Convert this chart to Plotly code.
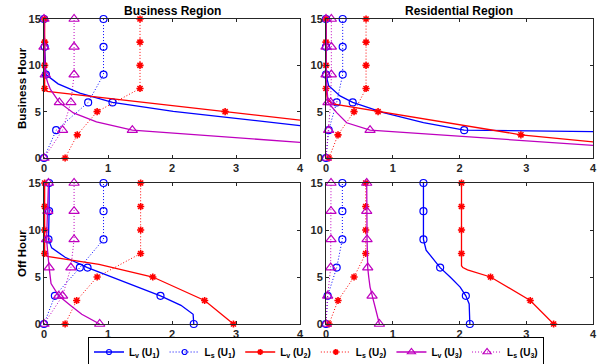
import plotly.graph_objects as go

# ---------------- data ----------------
Y_U13 = [0, 3, 6, 9, 12, 15]            # y positions of U1 / U3 samples
Y_U2 = [0, 2.5, 5, 7.5, 10, 12.5, 15]   # y positions of U2 samples

# Business Region, Business Hour
BB_LV1_X = [7.5, 4.65, 1.07, 0.03, 0.01, 0.0]
BB_LV1_CX = [7.5, 4.65, 4.0, 2.02, 1.07, 0.56, 0.22, 0.03, 0.01, 0.0]
BB_LV1_CY = [0, 3, 3.49, 5.04, 6, 7.0, 8.0, 9, 12, 15]
BB_LS1_X = [0.0, 0.19, 0.69, 0.93, 0.93, 0.93]
BB_LV2_X = [9.2, 6.0, 2.83, 0.01, 0.01, 0.01, 0.01]
BB_LV2_CX = [9.2, 6.0, 2.83, 0.05, 0.01, 0.01, 0.01, 0.01]
BB_LV2_CY = [0, 2.5, 5, 7.2, 7.5, 10, 12.5, 15]
BB_LS2_X = [0.33, 0.52, 0.83, 1.5, 1.5, 1.5, 1.5]
BB_LV3_X = [7.4, 1.38, 0.24, 0.02, 0.0, 0.0]
BB_LV3_CX = [7.4, 1.38, 0.82, 0.46, 0.24, 0.10, 0.06, 0.02, 0.0, 0.0]
BB_LV3_CY = [0, 3, 3.9, 4.86, 6, 7.4, 8.1, 9, 12, 15]
BB_LS3_X = [0.0, 0.29, 0.42, 0.47, 0.47, 0.47]

# Residential Region, Business Hour
RB_LV1_X = [40.0, 2.07, 0.40, 0.0, 0.0, 0.0]
RB_LV1_CX = [40.0, 2.07, 1.46, 0.86, 0.40, 0.21, 0.04, 0.0, 0.0, 0.0]
RB_LV1_CY = [0, 3, 3.82, 4.9, 6, 6.7, 7.8, 9, 12, 15]
RB_LS1_X = [0.0, 0.04, 0.16, 0.25, 0.25, 0.25]
RB_LV2_X = [6.9, 2.92, 0.78, 0.0, 0.0, 0.0, 0.0]
RB_LV2_CX = [6.9, 4.0, 2.92, 0.78, 0.10, 0.02, 0.0, 0.0, 0.0, 0.0]
RB_LV2_CY = [0, 1.73, 2.5, 5, 5.85, 6.3, 7.5, 10, 12.5, 15]
RB_LS2_X = [0.045, 0.18, 0.42, 0.6, 0.6, 0.6, 0.6]
RB_LV3_X = [6.8, 0.66, 0.03, 0.0, 0.0, 0.0]
RB_LV3_CX = [6.8, 4.0, 0.66, 0.31, 0.16, 0.03, 0.0, 0.0, 0.0]
RB_LV3_CY = [0, 1.37, 3, 3.8, 4.9, 6, 9, 12, 15]
RB_LS3_X = [0.0, 0.04, 0.07, 0.08, 0.08, 0.08]

# Business Region, Off Hour
BO_LV1_X = [2.34, 1.82, 0.68, 0.07, 0.08, 0.08]
BO_LV1_CX = [2.34, 2.33, 2.14, 1.82, 0.68, 0.33, 0.12, 0.07, 0.08, 0.08]
BO_LV1_CY = [0, 1.03, 1.99, 3, 6, 7.1, 8.1, 9, 12, 15]
BO_LS1_X = [0.0, 0.17, 0.56, 0.93, 0.93, 0.93]
BO_LV2_X = [2.96, 2.51, 1.70, 0.01, 0.01, 0.01, 0.01]
BO_LV2_CX = [2.96, 2.51, 1.70, 0.86, 0.05, 0.01, 0.01, 0.01, 0.01]
BO_LV2_CY = [0, 2.5, 5, 6.35, 7.2, 7.5, 10, 12.5, 15]
BO_LS2_X = [0.33, 0.51, 0.83, 1.51, 1.51, 1.51, 1.51]
BO_LV3_X = [0.87, 0.23, 0.08, 0.04, 0.06, 0.07]
BO_LV3_CX = [0.87, 0.59, 0.41, 0.23, 0.11, 0.08, 0.04, 0.06, 0.07]
BO_LV3_CY = [0, 1.03, 2.0, 3, 4.3, 6, 9, 12, 15]
BO_LS3_X = [0.0, 0.29, 0.42, 0.47, 0.47, 0.47]

# Residential Region, Off Hour
RO_LV1_X = [2.155, 2.095, 1.71, 1.46, 1.46, 1.46]
RO_LV1_CX = [2.155, 2.145, 2.095, 2.01, 1.86, 1.71, 1.5, 1.46, 1.46, 1.46]
RO_LV1_CY = [0, 2.14, 3, 3.93, 5, 6, 7.86, 9, 12, 15]
RO_LS1_X = [0.0, 0.025, 0.16, 0.245, 0.245, 0.245]
RO_LV2_X = [3.41, 3.06, 2.465, 2.03, 2.03, 2.03, 2.03]
RO_LV2_CX = [3.41, 3.06, 2.465, 2.12, 2.05, 2.03, 2.03, 2.03, 2.03, 2.03]
RO_LV2_CY = [0, 2.5, 5, 5.75, 6.0, 6.2, 7.5, 10, 12.5, 15]
RO_LS2_X = [0.045, 0.18, 0.42, 0.595, 0.595, 0.595, 0.595]
RO_LV3_X = [0.8, 0.69, 0.625, 0.615, 0.61, 0.61]
RO_LV3_CX = [0.8, 0.69, 0.66, 0.64, 0.625, 0.615, 0.61, 0.61]
RO_LV3_CY = [0, 3, 3.93, 5, 6, 9, 12, 15]
RO_LS3_X = [0.0, 0.025, 0.07, 0.075, 0.075, 0.075]

X_TICKS = [0, 1, 2, 3, 4]
Y_TICKS = [0, 5, 10, 15]
COL_TITLES = ["Business Region", "Residential Region"]
ROW_TITLES = ["Business Hour", "Off Hour"]
LEGEND_NAMES = ["L<sub>v</sub> (U<sub>1</sub>)", "L<sub>s</sub> (U<sub>1</sub>)",
                "L<sub>v</sub> (U<sub>2</sub>)", "L<sub>s</sub> (U<sub>2</sub>)",
                "L<sub>v</sub> (U<sub>3</sub>)", "L<sub>s</sub> (U<sub>3</sub>)"]

# ---------------- styling ----------------
BLUE = "#0000FF"
RED = "#FF0000"
MAG = "#BF00BF"
AX = "#262626"
FONT = "Liberation Sans"
DOT = "1px,2px"

STYLES = [
    dict(color=BLUE, dash="solid", symbol="circle-open", size=7, lsize=5),
    dict(color=BLUE, dash=DOT, symbol="circle-open", size=7, lsize=5),
    dict(color=RED, dash="solid", symbol="asterisk-open", size=6, lsize=5),
    dict(color=RED, dash=DOT, symbol="asterisk-open", size=6, lsize=5),
    dict(color=MAG, dash="solid", symbol="triangle-up-open", size=9, lsize=7),
    dict(color=MAG, dash=DOT, symbol="triangle-up-open", size=9, lsize=7),
]

fig = go.Figure()


def line_w(st):
    return 1.3 if st["dash"] == "solid" else 1.0


def marker_w(st):
    return 1.6 if st["symbol"].startswith("asterisk") else 1.2


def add_series(xa, ya, st, mx, my, cx=None, cy=None):
    lx = cx if cx is not None else mx
    lyy = cy if cy is not None else my
    fig.add_trace(go.Scatter(
        x=lx, y=lyy, mode="lines", xaxis=xa, yaxis=ya, showlegend=False,
        line=dict(color=st["color"], width=line_w(st), dash=st["dash"]), hoverinfo="skip"))
    pts = [(a, b) for a, b in zip(mx, my) if -0.01 <= a <= 4.01]
    fig.add_trace(go.Scatter(
        x=[p[0] for p in pts], y=[p[1] for p in pts], mode="markers",
        xaxis=xa, yaxis=ya, showlegend=False, cliponaxis=False,
        marker=dict(symbol=st["symbol"], size=st["size"], color=st["color"],
                    line=dict(color=st["color"], width=marker_w(st)))))


panels = [
    ("x", "y", BB_LV1_X, BB_LV1_CX, BB_LV1_CY, BB_LS1_X, BB_LV2_X, BB_LV2_CX, BB_LV2_CY,
     BB_LS2_X, BB_LV3_X, BB_LV3_CX, BB_LV3_CY, BB_LS3_X),
    ("x2", "y2", RB_LV1_X, RB_LV1_CX, RB_LV1_CY, RB_LS1_X, RB_LV2_X, RB_LV2_CX, RB_LV2_CY,
     RB_LS2_X, RB_LV3_X, RB_LV3_CX, RB_LV3_CY, RB_LS3_X),
    ("x3", "y3", BO_LV1_X, BO_LV1_CX, BO_LV1_CY, BO_LS1_X, BO_LV2_X, BO_LV2_CX, BO_LV2_CY,
     BO_LS2_X, BO_LV3_X, BO_LV3_CX, BO_LV3_CY, BO_LS3_X),
    ("x4", "y4", RO_LV1_X, RO_LV1_CX, RO_LV1_CY, RO_LS1_X, RO_LV2_X, RO_LV2_CX, RO_LV2_CY,
     RO_LS2_X, RO_LV3_X, RO_LV3_CX, RO_LV3_CY, RO_LS3_X),
]

for (xa, ya, lv1, lv1cx, lv1cy, ls1, lv2, lv2cx, lv2cy, ls2, lv3, lv3cx, lv3cy, ls3) in panels:
    add_series(xa, ya, STYLES[1], ls1, Y_U13)
    add_series(xa, ya, STYLES[3], ls2, Y_U2)
    add_series(xa, ya, STYLES[5], ls3, Y_U13)
    add_series(xa, ya, STYLES[0], lv1, Y_U13, lv1cx, lv1cy)
    add_series(xa, ya, STYLES[2], lv2, Y_U2, lv2cx, lv2cy)
    add_series(xa, ya, STYLES[4], lv3, Y_U13, lv3cx, lv3cy)

# legend entries
for name, st in zip(LEGEND_NAMES, STYLES):
    fig.add_trace(go.Scatter(
        x=[None], y=[None], mode="lines+markers", name=name, xaxis="x", yaxis="y",
        line=dict(color=st["color"], width=line_w(st), dash=st["dash"]),
        marker=dict(symbol=st["symbol"], size=st["lsize"], color=st["color"],
                    line=dict(color=st["color"], width=marker_w(st)))))

W, H = 608, 364
XD = [[44 / W, 300 / W], [326 / W, 593 / W]]
YD = [[1 - 158 / H, 1 - 19 / H], [1 - 324 / H, 1 - 183 / H]]

tickfont = dict(family=FONT, size=11, color=AX, weight="bold")
common = dict(showline=True, linecolor=AX, linewidth=1, mirror="ticks", ticks="inside",
              ticklen=3, tickcolor=AX, showgrid=False, zeroline=False,
              tickfont=tickfont, fixedrange=True)

layout = dict(width=W, height=H, margin=dict(l=0, r=0, t=0, b=0, autoexpand=False),
              plot_bgcolor="white", paper_bgcolor="white",
              font=dict(family=FONT, color="black"))
axes_ids = [("xaxis", "yaxis", "y", "x", 0, 0), ("xaxis2", "yaxis2", "y2", "x2", 1, 0),
            ("xaxis3", "yaxis3", "y3", "x3", 0, 1), ("xaxis4", "yaxis4", "y4", "x4", 1, 1)]
for xk, yk, yanc, xanc, c, r in axes_ids:
    layout[xk] = dict(common, domain=XD[c], anchor=yanc, range=[0, 4], tickvals=X_TICKS)
    layout[yk] = dict(common, domain=YD[r], anchor=xanc, range=[0, 15], tickvals=Y_TICKS)

layout["legend"] = dict(orientation="h", x=316 / W, xanchor="center", y=1 - 352 / H,
                        yanchor="middle", bordercolor="black", borderwidth=1,
                        bgcolor="white", itemwidth=30, tracegroupgap=0,
                        font=dict(family=FONT, size=10, color="black", weight="bold"))

annotations = []
for i, t in enumerate(COL_TITLES):
    annotations.append(dict(text=t, x=sum(XD[i]) / 2, y=1 - 11 / H, xref="paper", yref="paper",
                            xanchor="center", yanchor="middle", showarrow=False,
                            font=dict(family=FONT, size=12, color="black", weight="bold")))
for i, t in enumerate(ROW_TITLES):
    annotations.append(dict(text=t, x=21.5 / W, y=sum(YD[i]) / 2, xref="paper", yref="paper",
                            xanchor="center", yanchor="middle", showarrow=False, textangle=-90,
                            font=dict(family=FONT, size=11.5, color="black", weight="bold")))
layout["annotations"] = annotations

fig.update_layout(**layout)
fig.write_html("out.html")
